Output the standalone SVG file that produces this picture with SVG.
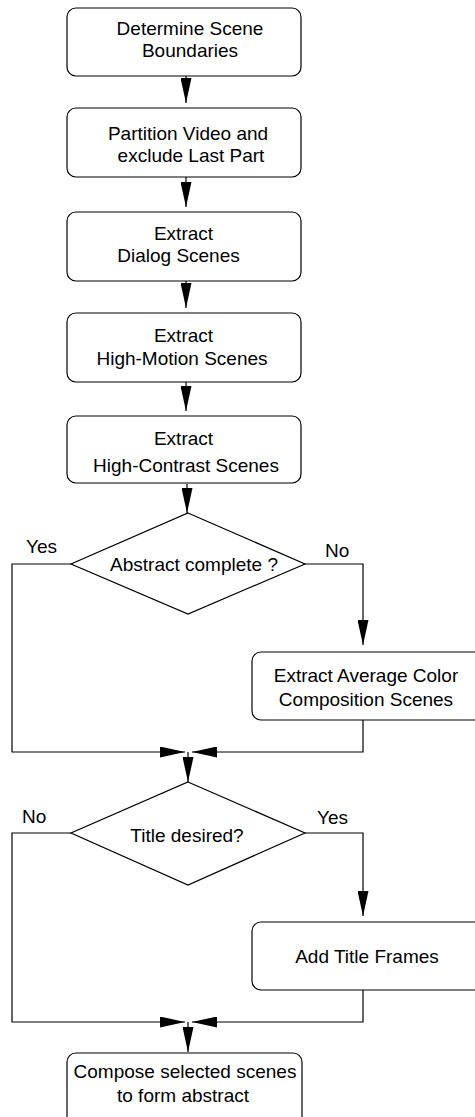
<svg xmlns="http://www.w3.org/2000/svg" width="475" height="1117" viewBox="0 0 475 1117">
<style>
.box{fill:#fff;stroke:#000;stroke-width:1.2}
.dia{fill:#fff;stroke:#000;stroke-width:1.2}
.con{fill:none;stroke:#000;stroke-width:1.2}
text{font-family:"Liberation Sans",Arial,sans-serif;font-size:19px;fill:#000;text-anchor:middle}
.lbl{text-anchor:start}
</style>
<defs>
<marker id="ah" markerUnits="userSpaceOnUse" viewBox="0 0 25 11" refX="25" refY="5.5" markerWidth="25" markerHeight="11" orient="auto">
<path d="M0,0 L25,5.5 L0,11 z" fill="#000"/>
</marker>
</defs>
<rect width="475" height="1117" fill="#fff"/>
<g id="connectors">
<path class="con" d="M186,72 V103" marker-end="url(#ah)"/>
<path class="con" d="M186,174 V207" marker-end="url(#ah)"/>
<path class="con" d="M186,278 V308" marker-end="url(#ah)"/>
<path class="con" d="M186,379 V411" marker-end="url(#ah)"/>
<path class="con" d="M187,484 V513" marker-end="url(#ah)"/>
<path class="con" d="M71,564 H12 V752 H185" marker-end="url(#ah)"/>
<path class="con" d="M305,564 H363 V645" marker-end="url(#ah)"/>
<path class="con" d="M363,716 V752 H192" marker-end="url(#ah)"/>
<path class="con" d="M188,752 V782" marker-end="url(#ah)"/>
<path class="con" d="M71,833 H12 V1022 H185" marker-end="url(#ah)"/>
<path class="con" d="M305,833 H363 V916" marker-end="url(#ah)"/>
<path class="con" d="M363,986 V1022 H192" marker-end="url(#ah)"/>
<path class="con" d="M188,1022 V1052" marker-end="url(#ah)"/>
</g>
<g id="n1"><rect class="box" x="67" y="8" width="234" height="68" rx="9"/>
<text x="190" y="35">Determine Scene</text><text x="190" y="57">Boundaries</text></g>
<g id="n2"><rect class="box" x="67" y="108" width="234" height="69" rx="9"/>
<text x="188" y="140">Partition Video and</text><text x="191" y="162">exclude Last Part</text></g>
<g id="n3"><rect class="box" x="67" y="212" width="234" height="69" rx="9"/>
<text x="183.5" y="240">Extract</text><text x="178.5" y="262">Dialog Scenes</text></g>
<g id="n4"><rect class="box" x="67" y="313" width="234" height="69" rx="9"/>
<text x="183.5" y="342">Extract</text><text x="182" y="365">High-Motion Scenes</text></g>
<g id="n5"><rect class="box" x="67" y="416" width="234" height="67" rx="9"/>
<text x="183.5" y="445">Extract</text><text x="186" y="472">High-Contrast Scenes</text></g>
<g id="d1"><polygon class="dia" points="188,513 305,564 188,614 71,564"/>
<text x="194" y="571">Abstract complete ?</text></g>
<text class="lbl" x="26" y="553">Yes</text>
<text class="lbl" x="325" y="557">No</text>
<g id="n6"><rect class="box" x="252" y="652" width="234" height="68" rx="9"/>
<text x="366" y="682">Extract Average Color</text><text x="366" y="706">Composition Scenes</text></g>
<g id="d2"><polygon class="dia" points="188,782 305,833 188,885 71,833"/>
<text x="187" y="842">Title desired?</text></g>
<text class="lbl" x="22" y="823">No</text>
<text class="lbl" x="317" y="824">Yes</text>
<g id="n7"><rect class="box" x="252" y="922" width="234" height="68" rx="9"/>
<text x="367" y="963">Add Title Frames</text></g>
<g id="n8"><rect class="box" x="67" y="1053" width="235" height="75" rx="9"/>
<text x="185" y="1078">Compose selected scenes</text><text x="183" y="1102">to form abstract</text></g>
</svg>
